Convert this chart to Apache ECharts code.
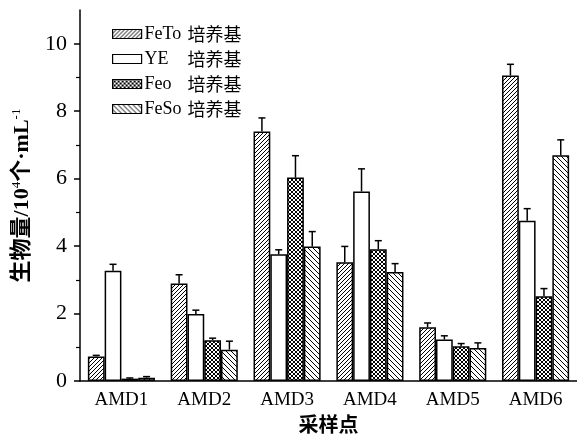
<!DOCTYPE html>
<html>
<head>
<meta charset="utf-8">
<script src="https://cdn.jsdelivr.net/npm/echarts@6/dist/echarts.min.js"></script>
<style>html,body{margin:0;padding:0;background:#fff}#c{width:577px;height:438px}</style>
</head>
<body>
<div id="c"></div>
<script>
const categories = ['AMD1', 'AMD2', 'AMD3', 'AMD4', 'AMD5', 'AMD6'];
const seriesNames = ['FeTo', 'YE', 'Feo', 'FeSo'];
const feToValues = [0.73, 2.89, 7.40, 3.52, 1.59, 9.06];
const yeValues   = [3.27, 1.99, 3.76, 5.62, 1.23, 4.75];
const feoValues  = [0.07, 1.21, 6.03, 3.91, 1.03, 2.51];
const feSoValues = [0.10, 0.93, 3.99, 3.23, 0.98, 6.69];
const feToErr = [0.03, 0.26, 0.40, 0.47, 0.13, 0.33];
const yeErr   = [0.19, 0.11, 0.13, 0.67, 0.11, 0.36];
const feoErr  = [0.02, 0.06, 0.65, 0.25, 0.08, 0.23];
const feSoErr = [0.03, 0.25, 0.44, 0.25, 0.15, 0.46];
const yMajorTicks = [0, 2, 4, 6, 8, 10];
const yMinorTicks = [1, 3, 5, 7, 9];

const allValues = [feToValues, yeValues, feoValues, feSoValues];
const allErrs = [feToErr, yeErr, feoErr, feSoErr];

function makePattern(period, mode) {
  const c = document.createElement('canvas');
  c.width = period; c.height = period;
  const g = c.getContext('2d');
  g.fillStyle = '#fff'; g.fillRect(0, 0, period, period);
  if (mode === 'none') return c;
  g.strokeStyle = '#000'; g.lineWidth = 1;
  g.beginPath();
  for (let k = -1; k <= 1; k++) {
    if (mode === 'fwd' || mode === 'cross') {
      g.moveTo(k * period, period); g.lineTo(k * period + period, 0);
    }
    if (mode === 'back' || mode === 'cross') {
      g.moveTo(k * period, 0); g.lineTo(k * period + period, period);
    }
  }
  g.stroke();
  return c;
}
const fills = [
  { image: makePattern(4, 'fwd'), repeat: 'repeat' },
  '#ffffff',
  { image: makePattern(4, 'cross'), repeat: 'repeat' },
  { image: makePattern(5, 'back'), repeat: 'repeat' }
];

const CAT_GAP = 0.19;
const errData = [];
allValues.forEach((vals, si) => {
  vals.forEach((v, ci) => errData.push([ci, v, allErrs[si][ci], si]));
});

const barSeries = seriesNames.map((n, i) => ({
  name: n,
  type: 'bar',
  data: allValues[i],
  barGap: '0%',
  barCategoryGap: (CAT_GAP * 100) + '%',
  itemStyle: { color: fills[i], borderColor: '#000', borderWidth: 1.5 },
  emphasis: { disabled: true },
  z: 2
}));

const errSeries = {
  type: 'custom',
  name: 'err',
  data: errData,
  z: 5,
  silent: true,
  renderItem: function (params, api) {
    const ci = api.value(0), v = api.value(1), e = api.value(2), si = api.value(3);
    const band = api.size([1, 0])[0];
    const groupW = band * (1 - CAT_GAP);
    const barW = groupW / 4;
    const off = -groupW / 2 + barW * (si + 0.5);
    const p0 = api.coord([ci, v]);
    const p1 = api.coord([ci, v + e]);
    const x = p0[0] + off;
    const style = { stroke: '#000', lineWidth: 1.5 };
    return {
      type: 'group',
      children: [
        { type: 'line', shape: { x1: x, y1: p0[1], x2: x, y2: p1[1] }, style: style },
        { type: 'line', shape: { x1: x - 3.5, y1: p1[1], x2: x + 3.5, y2: p1[1] }, style: style }
      ]
    };
  }
};

const chart = echarts.init(document.getElementById('c'), null, { renderer: 'canvas' });
const serif = "'Liberation Serif', 'Noto Sans CJK SC', serif";
chart.setOption({
  animation: false,
  backgroundColor: '#fff',
  grid: { left: 80, top: 10, width: 497, height: 371, containLabel: false, outerBoundsMode: 'none' },
  legend: {
    data: seriesNames,
    orient: 'vertical',
    left: 107,
    top: 20,
    icon: 'rect',
    itemWidth: 29,
    itemHeight: 9,
    itemGap: 7,
    selectedMode: false,
    itemStyle: { borderColor: '#000', borderWidth: 1.2 },
    formatter: function (name) { return '{a|' + name + '}{b|培养基}'; },
    textStyle: {
      color: '#000',
      padding: [0, 0, 0, -2],
      rich: {
        a: { fontFamily: "'Liberation Serif', serif", fontSize: 18, width: 43, color: '#000', lineHeight: 18 },
        b: { fontFamily: "'Noto Sans CJK SC', sans-serif", fontSize: 18, color: '#000', lineHeight: 18 }
      }
    }
  },
  xAxis: [
    {
      type: 'category',
      data: categories,
      axisLine: { lineStyle: { color: '#000', width: 1.5 } },
      axisTick: { alignWithLabel: true, length: 5, lineStyle: { color: '#000', width: 1.5 } },
      axisLabel: { color: '#000', fontFamily: serif, fontSize: 19, margin: 10 },
      name: '采样点',
      nameLocation: 'middle',
      nameGap: 32,
      nameTextStyle: { color: '#000', fontFamily: "'Noto Sans CJK SC', sans-serif", fontSize: 20, fontWeight: 'bold', verticalAlign: 'top' }
    },
    {
      type: 'category',
      data: categories,
      position: 'bottom',
      axisLine: { show: false },
      axisTick: { alignWithLabel: false, interval: 0, length: 3, lineStyle: { color: '#000', width: 1.2 } },
      axisLabel: { show: false }
    }
  ],
  yAxis: [
    {
      type: 'value',
      min: 0,
      max: 11,
      axisLine: { show: true, lineStyle: { color: '#000', width: 1.5 } },
      axisTick: { show: true, length: 6, customValues: yMajorTicks, lineStyle: { color: '#000', width: 1.5 } },
      axisLabel: { customValues: yMajorTicks, color: '#000', fontFamily: serif, fontSize: 22, margin: 13 },
      splitLine: { show: false },
      name: '{t|生物量/10}{s|4}{t|个·mL}{s|-1}',
      nameLocation: 'middle',
      nameGap: 46,
      nameTextStyle: {
        color: '#000',
        rich: {
          t: { fontFamily: serif, fontSize: 22, fontWeight: 'bold', color: '#000', lineHeight: 24 },
          s: { fontFamily: serif, fontSize: 13, color: '#000', verticalAlign: 'top', lineHeight: 24 }
        }
      }
    },
    {
      type: 'value',
      min: 0,
      max: 11,
      position: 'left',
      axisLine: { show: false },
      axisTick: { show: true, length: 4, customValues: yMinorTicks, lineStyle: { color: '#000', width: 1.2 } },
      axisLabel: { show: false },
      splitLine: { show: false }
    }
  ],
  series: barSeries.concat([errSeries])
});
</script>
</body>
</html>
